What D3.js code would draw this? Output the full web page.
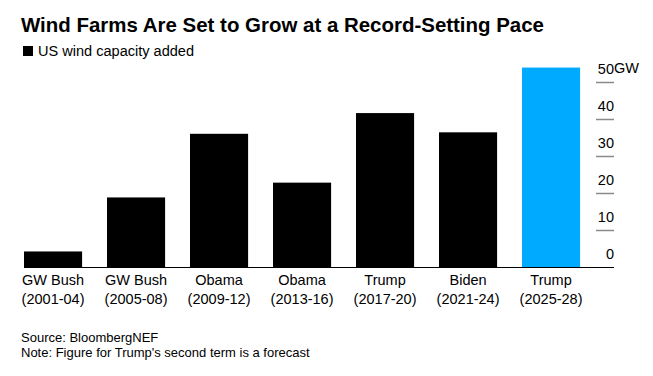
<!DOCTYPE html>
<html>
<head>
<meta charset="utf-8">
<script src="https://cdn.jsdelivr.net/npm/d3@7"></script>
<style>
  body { margin: 0; background: #fff; }
  svg { display: block; font-family: "Liberation Sans", Arial, sans-serif; }
</style>
</head>
<body>
<svg id="chart"></svg>
<script>
// data
const presidents = ["GW Bush", "GW Bush", "Obama", "Obama", "Trump", "Biden", "Trump"];
const terms = ["(2001-04)", "(2005-08)", "(2009-12)", "(2013-16)", "(2017-20)", "(2021-24)", "(2025-28)"];
const capacityGW = [4.2, 18.8, 36.0, 22.8, 41.6, 36.4, 53.9];
const forecast = [false, false, false, false, false, false, true];
const yTicks = [0, 10, 20, 30, 40, 50];

const width = 653, height = 376;
const svg = d3.select("#chart").attr("width", width).attr("height", height);

const x = d3.scaleBand()
	.domain(terms)
	.range([24, 24 + 83 * 6.7])
	.paddingInner(0.3)
	.paddingOuter(0);

const y = d3.scaleLinear()
	.domain([0, 50])
	.range([267, 82]);

const axisX = 614;

// title + legend
svg.append("text")
	.attr("x", 21).attr("y", 31.5)
	.attr("font-size", 21).attr("font-weight", "bold")
	.attr("textLength", 523).attr("lengthAdjust", "spacingAndGlyphs")
	.text("Wind Farms Are Set to Grow at a Record-Setting Pace");

svg.append("rect")
	.attr("x", 23).attr("y", 46).attr("width", 10).attr("height", 10)
	.attr("fill", "#000");
svg.append("text")
	.attr("x", 38).attr("y", 56)
	.attr("font-size", 15.5)
	.attr("textLength", 156).attr("lengthAdjust", "spacingAndGlyphs")
	.text("US wind capacity added");

// bars
svg.append("g")
	.selectAll("rect")
	.data(capacityGW)
	.join("rect")
	.attr("x", (d, i) => x(terms[i]))
	.attr("y", d => y(d))
	.attr("width", x.bandwidth())
	.attr("height", d => y(0) - y(d))
	.attr("fill", (d, i) => forecast[i] ? "#00aaff" : "#000");

// baseline
svg.append("line")
	.attr("x1", x(terms[0])).attr("x2", axisX)
	.attr("y1", y(0) + 0.5).attr("y2", y(0) + 0.5)
	.attr("stroke", "#000").attr("stroke-width", 1);

// y axis on the right, labels sit above short ticks
const gy = svg.append("g")
	.attr("transform", `translate(${axisX},0)`)
	.call(d3.axisLeft(y).tickValues(yTicks).tickSize(18).tickFormat(d3.format("d")));

gy.select(".domain").remove();
gy.selectAll(".tick line")
	.attr("stroke", "#8a8a8a").attr("stroke-width", 1.5)
	.filter(d => d === 0).remove();
gy.selectAll(".tick text")
	.attr("x", 0).attr("dy", null).attr("y", -9)
	.attr("fill", "#000")
	.attr("font-size", 14.5)
	.attr("font-family", "Liberation Sans, Arial, sans-serif")
	.attr("text-anchor", "end");
gy.append("text")
	.attr("x", 0).attr("y", y(50) - 9)
	.attr("font-size", 14.5).attr("fill", "#000")
	.attr("text-anchor", "start")
	.text("GW");

// category labels
const labels = svg.append("g")
	.selectAll("text")
	.data(terms)
	.join("text")
	.attr("text-anchor", "middle")
	.attr("font-size", 14.5)
	.attr("x", d => x(d) + x.bandwidth() / 2);
labels.append("tspan")
	.attr("x", d => x(d) + x.bandwidth() / 2)
	.attr("y", 285)
	.text((d, i) => presidents[i]);
labels.append("tspan")
	.attr("x", d => x(d) + x.bandwidth() / 2)
	.attr("y", 304)
	.text(d => d);

// footnotes
svg.append("text")
	.attr("x", 21).attr("y", 341.5)
	.attr("font-size", 13)
	.text("Source: BloombergNEF");
svg.append("text")
	.attr("x", 21).attr("y", 356.5)
	.attr("font-size", 13)
	.text("Note: Figure for Trump's second term is a forecast");
</script>
</body>
</html>
